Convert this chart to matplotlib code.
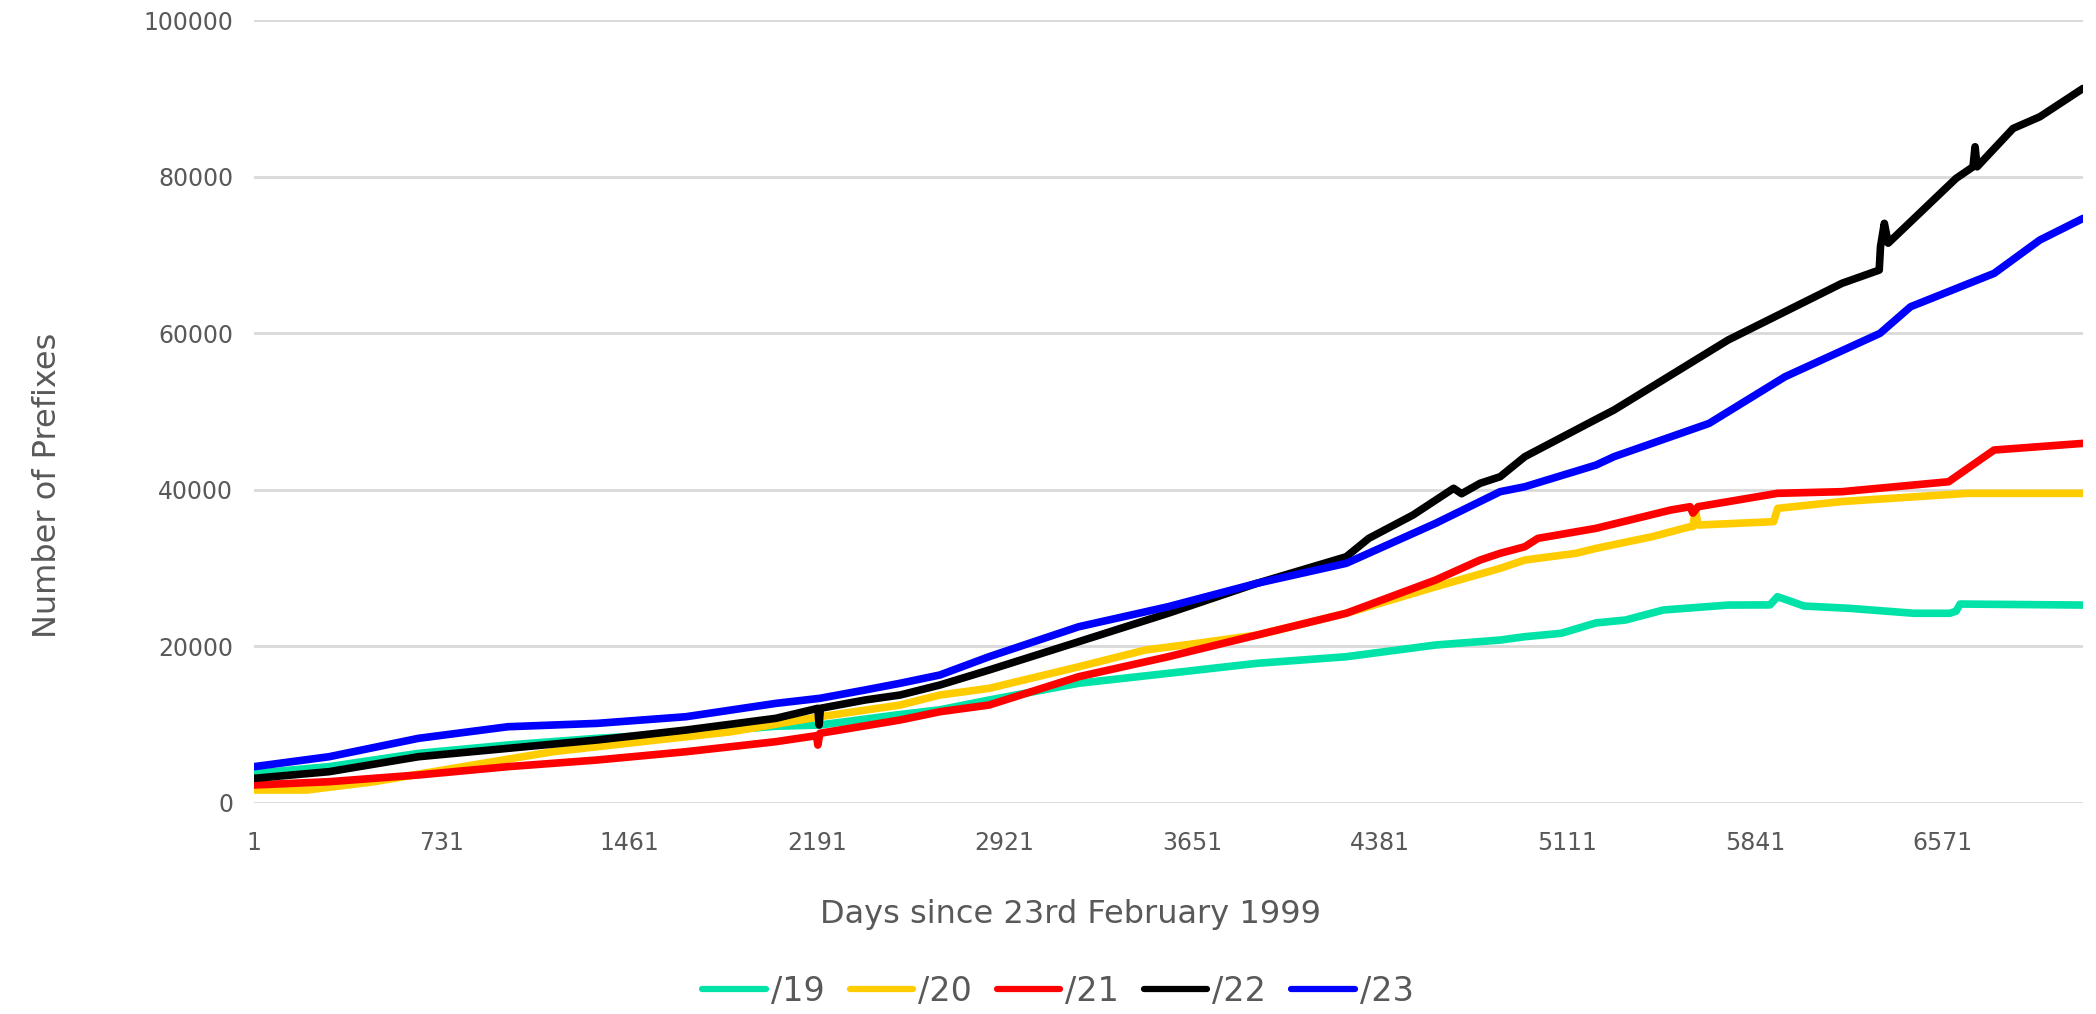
import matplotlib
matplotlib.use("Agg")
import matplotlib.pyplot as plt

# days since 23 Feb 1999 and number of prefixes
days_19 = [1, 293, 641, 989, 1336, 1682, 2031, 2203, 2515, 2670, 2861, 3210, 3558, 3904,
           4251, 4599, 4850, 4946, 5087, 5223, 5338, 5485, 5737, 5900, 5929, 5960, 6032,
           6210, 6460, 6600, 6624, 6640, 7118]
pfx_19 = [3790, 4640, 6340, 7410, 8260, 8900, 9800, 9960, 11300, 11900, 13150, 15290, 16560, 17840,
          18680, 20180, 20810, 21240, 21670, 23000, 23370, 24650, 25280, 25300, 26340, 26000, 25160,
          24860, 24230, 24230, 24500, 25410, 25280]

days_20 = [1, 207, 468, 814, 1163, 1510, 1857, 2203, 2515, 2670, 2861, 3210, 3470, 3651, 3904,
           4251, 4599, 4850, 4946, 5145, 5223, 5441, 5589, 5600, 5610, 5620, 5914, 5930, 6180,
           6669, 7118]
pfx_20 = [1660, 1660, 2720, 4640, 6550, 7830, 9100, 11020, 12510, 13790, 14640, 17400, 19540, 20300, 21450,
          24230, 27620, 29970, 31030, 31890, 32520, 34010, 35290, 35290, 37400, 35500, 35930, 37630, 38500,
          39550, 39550]

days_21 = [1, 293, 641, 989, 1336, 1682, 2031, 2190, 2195, 2203, 2515, 2670, 2861, 3210, 3558,
           3904, 4251, 4599, 4772, 4850, 4946, 4997, 5223, 5514, 5589, 5600, 5620, 5929, 6180,
           6595, 6772, 7118]
pfx_21 = [2300, 2720, 3580, 4640, 5490, 6550, 7830, 8600, 7400, 8900, 10600, 11660, 12510, 16130, 18680,
          21450, 24230, 28480, 31030, 31890, 32730, 33800, 35080, 37420, 37840, 37030, 37840, 39550, 39760,
          41030, 45080, 45930]

days_22 = [1, 293, 641, 989, 1336, 1682, 2031, 2195, 2200, 2205, 2378, 2515, 2670, 2861, 3210,
           3558, 3904, 4251, 4339, 4511, 4669, 4700, 4772, 4850, 4946, 5223, 5293, 5737, 6180,
           6325, 6330, 6345, 6360, 6624, 6690, 6698, 6706, 6846, 6950, 7118]
pfx_22 = [3150, 4000, 5910, 6980, 8050, 9320, 10810, 12090, 9960, 12090, 13150, 13790, 15070, 16980, 20600,
          24230, 28060, 31450, 33800, 36780, 40190, 39500, 40830, 41670, 44230, 49000, 50190, 59130, 66370,
          68060, 71040, 74030, 71500, 79770, 81250, 83810, 81250, 86150, 87640, 91260]

days_23 = [1, 293, 641, 989, 1336, 1682, 2031, 2203, 2378, 2515, 2670, 2861, 3210, 3558, 3904,
           4251, 4599, 4850, 4946, 5223, 5293, 5663, 5959, 6328, 6447, 6772, 6950, 7118]
pfx_23 = [4640, 5910, 8260, 9740, 10170, 11020, 12720, 13370, 14430, 15290, 16350, 18680, 22510, 25070, 28060,
          30610, 35720, 39760, 40390, 43160, 44230, 48480, 54450, 59980, 63380, 67640, 71900, 74660]

labels = ["/19", "/20", "/21", "/22", "/23"]
colors = ["#00E3A8", "#FFCC00", "#FF0000", "#000000", "#0000FF"]
x_ticks = [1, 731, 1461, 2191, 2921, 3651, 4381, 5111, 5841, 6571]

text_col = "#595959"
plt.rcParams['font.family'] = ['DejaVu Sans']

fig = plt.figure(figsize=(20.96, 10.14), dpi=100)
ax = fig.add_axes([254 / 2096, 1 - 803 / 1014, (2083 - 254) / 2096, (803 - 20) / 1014])

series = [(days_19, pfx_19), (days_20, pfx_20), (days_21, pfx_21),
          (days_22, pfx_22), (days_23, pfx_23)]
for (d, v), lab, col in zip(series, labels, colors):
    ax.plot(d, v, color=col, lw=5.5, label=lab, solid_capstyle='round', solid_joinstyle='round')

ax.set_xlim(1, 7118)
ax.set_ylim(0, 100000)
ax.set_xticks(x_ticks)
ax.set_yticks(range(0, 100001, 20000))
ax.tick_params(axis='both', length=0, labelsize=17, colors=text_col)
ax.tick_params(axis='x', pad=20)
ax.tick_params(axis='y', pad=15)
ax.grid(axis='y', color='#D9D9D9', lw=2)
ax.set_axisbelow(True)
for s in ax.spines.values():
    s.set_visible(False)

fig.text(1071 / 2096, 1 - 915 / 1014, "Days since 23rd February 1999",
         ha='center', va='center', fontsize=23, color=text_col)
fig.text(48 / 2096, 1 - 485 / 1014, "Number of Prefixes", rotation=90,
         ha='center', va='center', fontsize=23, color=text_col)

leg = fig.legend(loc='center', bbox_to_anchor=(1058 / 2096, 1 - 991 / 1014), ncol=5,
                 frameon=False, fontsize=24, handlelength=1.9, handletextpad=0.15,
                 columnspacing=0.75)
for t in leg.get_texts():
    t.set_color(text_col)
for h in leg.get_lines():
    h.set_linewidth(4.5)

fig.savefig("out.png", dpi=100)
